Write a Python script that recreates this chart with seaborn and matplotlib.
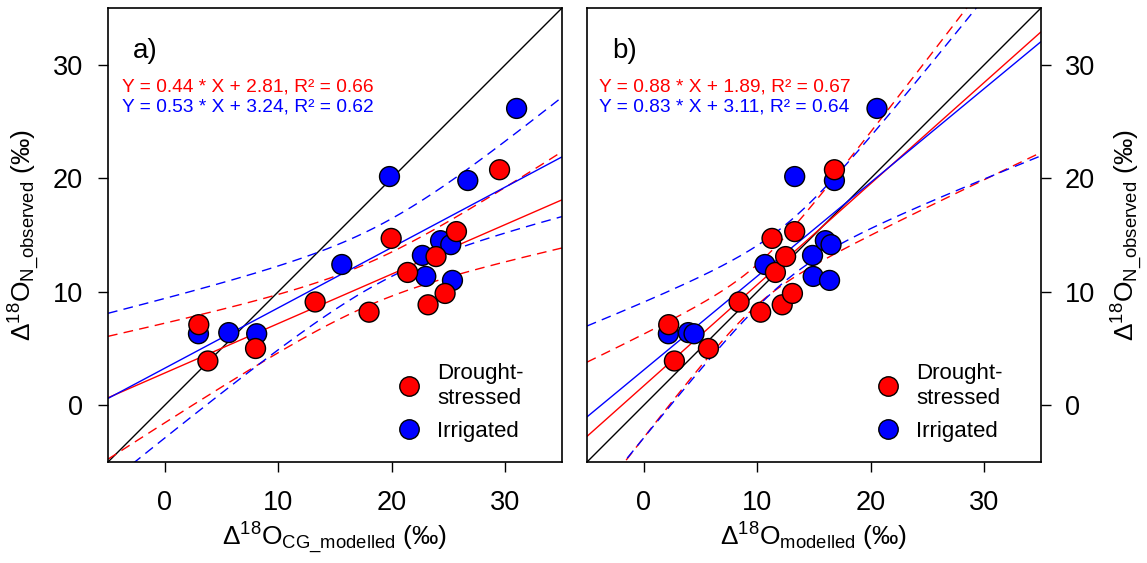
import numpy as np
import pandas as pd
import matplotlib
matplotlib.use("Agg")
import matplotlib.pyplot as plt
import seaborn as sns
from matplotlib.lines import Line2D

# ---------------- data ----------------
obs_drought = [7.1, 3.9, 5.0, 9.1, 8.2, 14.7, 11.7, 8.85, 13.1, 9.85, 15.3, 20.75]
cg_drought = [3.0, 3.8, 8.0, 13.25, 18.0, 19.95, 21.4, 23.2, 23.9, 24.7, 25.7, 29.5]
mod_drought = [2.2, 2.7, 5.7, 8.4, 10.3, 11.3, 11.6, 12.2, 12.5, 13.1, 13.3, 16.8]

obs_irr = [6.3, 6.4, 6.3, 12.4, 20.15, 13.2, 11.35, 14.5, 14.15, 11.0, 19.8, 26.15]
cg_irr = [2.97, 5.64, 8.1, 15.6, 19.8, 22.7, 23.0, 24.3, 25.2, 25.35, 26.7, 31.0]
mod_irr = [2.17, 3.93, 4.43, 10.68, 13.3, 14.87, 14.93, 16.0, 16.5, 16.37, 16.8, 20.55]

DR = "Drought-\nstressed"
IR = "Irrigated"
colors = {DR: "#FF0000", IR: "#0000FF"}
panel_labels = ["a)", "b)"]
eq_a = ["Y = 0.44 * X + 2.81, R² = 0.66", "Y = 0.53 * X + 3.24, R² = 0.62"]
eq_b = ["Y = 0.88 * X + 1.89, R² = 0.67", "Y = 0.83 * X + 3.11, R² = 0.64"]
xlabels = [r"$\Delta^{18}$O$_{\mathrm{CG\_modelled}}$ (‰)", r"$\Delta^{18}$O$_{\mathrm{modelled}}$ (‰)"]
ylabel = r"$\Delta^{18}$O$_{\mathrm{N\_observed}}$ (‰)"
ticks = [0, 10, 20, 30]
lims = (-5, 35)

sns.set_style("ticks")
plt.rcParams["font.family"] = ["Liberation Sans", "DejaVu Sans"]
plt.rcParams["mathtext.fontset"] = "custom"
plt.rcParams["mathtext.rm"] = "Liberation Sans"
plt.rcParams["mathtext.it"] = "Liberation Sans:italic"
plt.rcParams["mathtext.bf"] = "Liberation Sans:bold"
plt.rcParams["text.color"] = "black"
plt.rcParams["axes.labelcolor"] = "black"

try:
    from scipy import stats
    def tcrit(df):
        return stats.t.ppf(0.975, df)
except Exception:
    def tcrit(df):
        return 2.228


def make_df(xd, xi):
    return pd.DataFrame({
        "x": list(xi) + list(xd),
        "y": list(obs_irr) + list(obs_drought),
        "group": [IR] * len(xi) + [DR] * len(xd),
    })


def fit_lines(ax, x, y, color):
    x = np.asarray(x, float)
    y = np.asarray(y, float)
    n = len(x)
    b, a = np.polyfit(x, y, 1)
    grid = np.linspace(lims[0], lims[1], 200)
    yhat = a + b * grid
    resid = y - (a + b * x)
    s = np.sqrt(np.sum(resid ** 2) / (n - 2))
    sxx = np.sum((x - x.mean()) ** 2)
    se = s * np.sqrt(1.0 / n + (grid - x.mean()) ** 2 / sxx)
    t = tcrit(n - 2)
    ax.plot(grid, yhat, color=color, lw=1.0, zorder=2)
    ax.plot(grid, yhat + t * se, color=color, lw=1.0, dashes=(7, 4.5), zorder=2)
    ax.plot(grid, yhat - t * se, color=color, lw=1.0, dashes=(7, 4.5), zorder=2)


fig = plt.figure(figsize=(11.47, 5.63), dpi=100)
W, H = 1147, 563
axA = fig.add_axes([108 / W, 1 - 462 / H, 454 / W, 454 / H])
axB = fig.add_axes([587 / W, 1 - 462 / H, 454 / W, 454 / H])

eq_x = [0.030, 0.026]
for i, (ax, xd, xi, eqs) in enumerate([(axA, cg_drought, cg_irr, eq_a), (axB, mod_drought, mod_irr, eq_b)]):
    df = make_df(xd, xi)
    ax.axline((0, 0), slope=1, color="black", lw=1.0, zorder=2)
    fit_lines(ax, xd, obs_drought, colors[DR])
    fit_lines(ax, xi, obs_irr, colors[IR])
    sns.scatterplot(data=df, x="x", y="y", hue="group", palette=colors, s=205,
                    edgecolor="black", linewidth=1.0, ax=ax, legend=False, zorder=3)
    ax.set_xlim(*lims)
    ax.set_ylim(*lims)
    ax.set_xticks(ticks)
    ax.set_yticks(ticks)
    for sp in ax.spines.values():
        sp.set_visible(True)
        sp.set_linewidth(1.2)
        sp.set_color("black")
    ax.tick_params(axis="both", direction="out", length=7.5, width=1.0, labelsize=19.5,
                   colors="black", labelcolor="black")
    ax.tick_params(axis="x", pad=13)
    ax.tick_params(axis="y", pad=10.5 if i == 0 else 9.5)
    ax.set_xlabel(xlabels[i], fontsize=19, labelpad=3)
    ax.text(0.055, 0.905, panel_labels[i], transform=ax.transAxes, fontsize=20, va="center", ha="left")
    ax.text(eq_x[i], 0.826, eqs[0], transform=ax.transAxes, fontsize=13.8, color=colors[DR], va="center", ha="left")
    ax.text(eq_x[i], 0.782, eqs[1], transform=ax.transAxes, fontsize=13.8, color=colors[IR], va="center", ha="left")

    handles = [Line2D([], [], marker="o", ls="", markersize=14, markerfacecolor=colors[g],
                      markeredgecolor="black", markeredgewidth=1.0) for g in [DR, IR]]
    leg = ax.legend(handles, [DR, IR], loc="upper left", frameon=False,
                    fontsize=16, handlelength=1.0, handletextpad=0.75, labelspacing=0.55,
                    borderpad=0.0, borderaxespad=0.0, bbox_to_anchor=(0.639, 0.219))
    for t in leg.get_texts():
        t.set_linespacing(1.25)

axA.set_ylabel(ylabel, fontsize=19, labelpad=7)
axB.yaxis.tick_right()
axB.yaxis.set_label_position("right")
axB.set_ylabel(ylabel, fontsize=19, labelpad=11, rotation=90)

fig.savefig("out.png", dpi=100)
